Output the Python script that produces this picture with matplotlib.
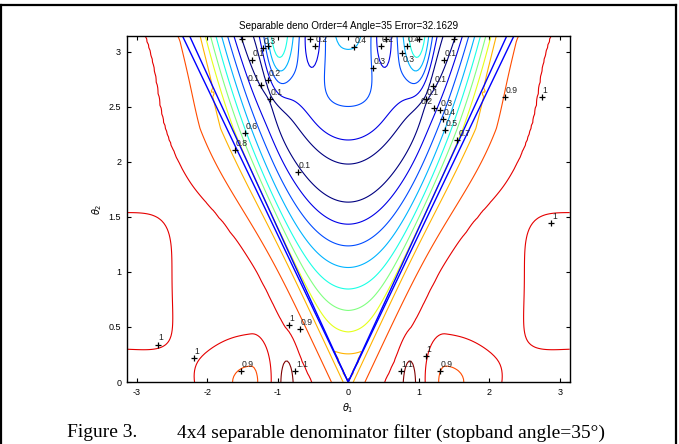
import numpy as np
import matplotlib
matplotlib.use('Agg')
import matplotlib.pyplot as plt
from matplotlib.lines import Line2D

plt.rcParams['font.family'] = ['Liberation Sans', 'DejaVu Sans']
plt.rcParams['axes.unicode_minus'] = False

# --- testi ---
TITLE = 'Separable deno Order=4 Angle=35 Error=32.1629'
CAPTION_NUM = 'Figure 3.'
CAPTION_TXT = '4x4 separable denominator filter (stopband angle=35\u00b0)'

# --- livelli e assi ---
LEVELS = [0.1, 0.2, 0.3, 0.4, 0.5, 0.6, 0.7, 0.8, 0.9, 1.0, 1.1]
XTICKS = [-3, -2, -1, 0, 1, 2, 3]
YTICKS = [0, 0.5, 1, 1.5, 2, 2.5, 3]
EDGE_ANGLES = [35.6, 36.8]   # linee blu del ventaglio ideale (gradi)

# --- etichette dei contorni (testo, theta1, theta2) ---
LABEL_TEXT = ['0.3', '0.2', '0.4', '0.2', '0.3', '0.4', '0.3', '0.1', '0.1',
              '0.1', '0.2', '0.1', '0.6', '0.8', '0.1', '0.1', '0.1', '0.2',
              '0.3', '0.4', '0.5', '0.7', '0.9', '1', '1', '1', '1', '0.9',
              '1', '0.9', '1.1', '1.1', '1', '0.9']
LABEL_T1 = [-1.21, -0.47, 0.08, 0.47, 0.76, 0.83, 0.35, 1.36, -1.37,
            -1.23, -1.14, -1.11, -1.46, -1.61, -0.71, 1.21, 1.10, 1.22,
            1.30, 1.35, 1.37, 1.55, 2.22, 2.75, 2.88, -2.70, -2.19, -1.52,
            -0.84, -0.68, -0.75, 0.75, 1.10, 1.30]
LABEL_T2 = [3.03, 3.05, 3.04, 3.05, 2.99, 3.05, 2.85, 2.92, 2.92,
            2.70, 2.74, 2.57, 2.26, 2.11, 1.91, 2.69, 2.57, 2.49,
            2.47, 2.39, 2.29, 2.20, 2.59, 2.59, 1.44, 0.34, 0.22, 0.10,
            0.52, 0.48, 0.10, 0.10, 0.24, 0.10]
LABEL_LEFT = [9, 17]             # testi a sinistra della croce
LABEL_BELOW = [4]                # testi sotto la croce
# croci senza testo visibile (bordo superiore)
PLUS_T1 = [-1.50, -1.14, -0.54, 0.53, 1.00, 1.50]
PLUS_T2 = [3.11, 3.05, 3.11, 3.11, 3.11, 3.11]


def matlab_jet(n):
    # colormap jet come in MATLAB
    r = np.clip(min(4 * n - 1.5, -4 * n + 4.5), 0, 1)
    g = np.clip(min(4 * n - 0.5, -4 * n + 3.5), 0, 1)
    b = np.clip(min(4 * n + 0.5, -4 * n + 2.5), 0, 1)
    return (r, g, b)


LEVEL_COLORS = [matlab_jet((lv - LEVELS[0]) / (LEVELS[-1] - LEVELS[0])) for lv in LEVELS]

# --- risposta in ampiezza approssimata del filtro ---
t1 = np.linspace(-np.pi, np.pi, 241)
t2 = np.linspace(0, np.pi, 121)
X, Y = np.meshgrid(t1, t2)
AX = np.abs(X)

a = np.deg2rad(36.2)
d = AX * np.cos(a) - Y * np.sin(a)          # distanza dal bordo del ventaglio

# banda di arresto: valle parabolica
u = Y - 0.65 * X**2
u0 = 1.82
branch = np.where(u < u0, 0.511 * (u0 - u), 0.5 * (1 - np.exp(-(u - u0) / 0.75)))
C = np.minimum(np.sqrt(branch**2 + 0.03**2), 0.88)

e0 = 0.75 + 0.11 * np.clip((Y - 2.3) / 0.8, 0, 1)
inside = C + np.maximum(e0 - C, 0) * np.exp(np.minimum(d, 0) / 0.08)

# banda passante: il contorno 1.0 sta a distanza d1 dal bordo
d1 = 0.42 + 0.34 * np.exp(-((Y - 2.1) / 0.75)**2)
t = np.clip(d / d1, 0, 1)
rise = e0 + (1 - e0) * (1 - (1 - t)**1.5)
outside = np.where(d <= d1, rise, 1 + 0.07 * np.tanh((d - d1) / 0.25))
H = np.where(d < 0, inside, outside)


def bump(x0, y0, sx, sy, amp):
    return amp * np.exp(-0.5 * ((AX - x0) / sx)**2 - 0.5 * ((Y - y0) / sy)**2)


H += bump(0.5, np.pi + 0.05, 0.13, 0.30, -0.27)
H += bump(1.0, np.pi, 0.13, 0.35, 0.30)
H += bump(0.87, 0.0, 0.07, 0.173, 0.12)
sx_dip = np.where(AX < 1.38, 0.2, 0.55)
H += -0.19 * np.exp(-0.5 * ((AX - 1.38) / sx_dip)**2 - 0.5 * (Y / 0.30)**2)
H += -0.10 * np.exp(-(((AX - 3.25) / 0.97)**4 + ((Y - 0.92) / 0.80)**4))

# --- figura ---
fig = plt.figure(figsize=(6.79, 4.44), dpi=100)
ax = fig.add_axes([0.1866, 0.1396, 0.6524, 0.7793])

ax.contour(X, Y, H, levels=LEVELS, colors=LEVEL_COLORS, linewidths=0.8)

for ang in EDGE_ANGLES:
    tx = np.pi * np.tan(np.deg2rad(ang))
    ax.plot([-tx, 0, tx], [np.pi, 0, np.pi], color='#0000ff', lw=1.0)

ax.plot(LABEL_T1, LABEL_T2, '+', color='black', ms=5, mew=0.9)
ax.plot(PLUS_T1, PLUS_T2, '+', color='black', ms=5, mew=0.9)
for i, (s, x, y) in enumerate(zip(LABEL_TEXT, LABEL_T1, LABEL_T2)):
    left = i in LABEL_LEFT
    below = i in LABEL_BELOW
    ax.annotate(s, (x, y), xytext=(-1.0 if left else 0.5, -1.5 if below else 1.5),
                textcoords='offset points', fontsize=6.2, color='#222222',
                ha='right' if left else 'left', va='top' if below else 'bottom',
                annotation_clip=True, clip_on=True)

ax.set_xlim(-np.pi, np.pi)
ax.set_ylim(0, np.pi)
ax.set_xticks(XTICKS)
ax.set_xticklabels(['%g' % v for v in XTICKS])
ax.set_yticks(YTICKS)
ax.set_yticklabels(['%g' % v for v in YTICKS])
ax.tick_params(direction='in', top=True, right=True, length=3, width=0.8,
               labelsize=6.5, pad=4)
for sp in ax.spines.values():
    sp.set_linewidth(1.0)

ax.set_title(TITLE, fontsize=7.1, pad=5)
ax.set_xlabel(r'$\theta_1$', fontsize=7, labelpad=3)
ax.set_ylabel(r'$\theta_2$', fontsize=7, labelpad=3)

# --- didascalia e cornice ---
fig.text(0.098, 0.025, CAPTION_NUM, family='Liberation Serif', fontsize=14,
         va='center', ha='left')
fig.text(0.261, 0.025, CAPTION_TXT, family='Liberation Serif', fontsize=14,
         va='center', ha='left')
for xs, ys in [([0.002, 0.002], [-0.1, 0.989]),
               ([0.996, 0.996], [-0.1, 0.989]),
               ([0.002, 0.996], [0.989, 0.989])]:
    fig.add_artist(Line2D(xs, ys, color='black', lw=1.6))

fig.savefig('out.png', dpi=100)
